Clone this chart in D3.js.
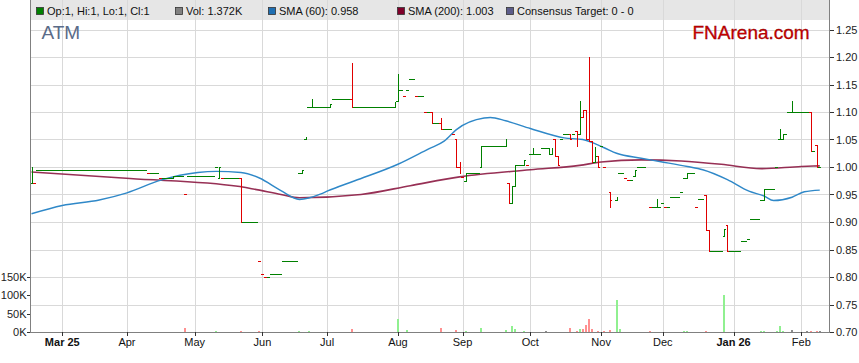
<!DOCTYPE html>
<html>
<head>
<meta charset="utf-8">
<script src="https://cdn.jsdelivr.net/npm/d3@7"></script>
<style>
body { margin: 0; background: #fff; }
svg { display: block; font-family: "Liberation Sans", Arial, sans-serif; }
</style>
</head>
<body>
<svg id="chart" width="859" height="363"></svg>
<script>
// first bar date, every weekday after it is one slot on the x axis
var startDate = "2025-02-17";

var monthStarts = ["2025-03-01", "2025-04-01", "2025-05-01", "2025-06-01", "2025-07-01", "2025-08-01",
	"2025-09-01", "2025-10-01", "2025-11-01", "2025-12-01", "2026-01-01", "2026-02-01"];
var monthLabels = ["Mar 25", "Apr", "May", "Jun", "Jul", "Aug", "Sep", "Oct", "Nov", "Dec", "Jan 26", "Feb"];

var priceTicks = [0.70, 0.75, 0.80, 0.85, 0.90, 0.95, 1.00, 1.05, 1.10, 1.15, 1.20, 1.25];
var volTicks = [0, 50, 100, 150];
var volTickLabels = ["0K", "50K", "100K", "150K"];

var legendLabels = ["Op:1, Hi:1, Lo:1, Cl:1", "Vol: 1.372K", "SMA (60): 0.958", "SMA (200): 1.003", "Consensus Target: 0 - 0"];

// [weekday, price] for a flat day, or [weekday, open, high, low, close]
var bars = [
	[0, 0.97, 1.00, 0.97, 1.00], [1, 0.97],
	[2, .995], [3, .995], [4, .995], [5, .995], [6, .995], [7, .995], [8, .995], [9, .995], [10, .995],
	[11, .995], [12, .995], [13, .995], [14, .995], [15, .995], [16, .995], [17, .995], [18, .995], [19, .995],
	[20, .995], [21, .995], [22, .995], [23, .995], [24, .995], [25, .995], [26, .995], [27, .995], [28, .995],
	[29, .995], [30, .995], [31, .995], [32, .995], [33, .995], [34, .995], [35, .995], [36, .995], [37, .995],
	[38, .99], [39, .99], [40, .99], [41, .99],
	[42, .98], [43, .98], [44, .98], [45, .98],
	[46, 0.98, 0.984, 0.98, 0.984],
	[47, .984], [48, .984], [49, .984], [50, .95],
	[51, .984], [52, .984], [53, .984], [54, .984], [55, .984], [56, .984], [57, .984], [58, .984], [59, .984],
	[60, 1.00], [61, 0.98, 1.00, 0.98, 1.00],
	[62, .98], [63, .98], [64, .98], [65, .98], [66, .98], [67, .98],
	[68, 0.98, 0.98, 0.90, 0.90],
	[69, .90], [70, .90], [71, .90], [72, .90], [73, .90],
	[74, .83], [75, .805], [76, .80], [77, .80],
	[78, .805], [79, .805], [80, .805], [81, .805],
	[82, .83], [83, .83], [84, .83], [85, .83], [86, .83],
	[87, .99], [88, 0.99, 0.995, 0.99, 0.995],
	[89, 1.05, 1.055, 1.05, 1.055],
	[90, 1.109], [91, 1.109, 1.124, 1.109, 1.109],
	[92, 1.109], [93, 1.109], [94, 1.109], [95, 1.109], [96, 1.109],
	[97, 1.109, 1.115, 1.109, 1.115],
	[98, 1.124], [99, 1.124], [100, 1.124], [101, 1.124], [102, 1.124], [103, 1.124],
	[104, 1.124, 1.19, 1.109, 1.109],
	[105, 1.109], [106, 1.109], [107, 1.109], [108, 1.109], [109, 1.109], [110, 1.109], [111, 1.109],
	[112, 1.109], [113, 1.109], [114, 1.109], [115, 1.109], [116, 1.109], [117, 1.109],
	[118, 1.109, 1.119, 1.109, 1.119],
	[119, 1.12, 1.169, 1.12, 1.13],
	[120, 1.14], [121, 1.13], [122, 1.14], [123, 1.16], [124, 1.16], [125, 1.13], [126, 1.13], [127, 1.13],
	[128, 1.10], [129, 1.10],
	[130, 1.10, 1.10, 1.08, 1.08],
	[131, 1.08], [132, 1.08],
	[133, 1.08, 1.089, 1.069, 1.069],
	[134, 1.069], [135, 1.069], [136, 1.069], [137, 1.06],
	[138, 1.05, 1.05, 1.00, 1.00],
	[139, 1.00, 1.009, 0.99, 0.99],
	[140, 0.981],
	[141, 0.975, 0.989, 0.975, 0.989],
	[142, .989], [143, .989], [144, .989], [145, .989],
	[146, 1.00, 1.039, 1.00, 1.039],
	[147, 1.039], [148, 1.039], [149, 1.039], [150, 1.039], [151, 1.039], [152, 1.039], [153, 1.039],
	[154, 1.039, 1.05, 1.039, 1.05],
	[155, 0.97, 0.97, 0.935, 0.935],
	[156, 0.935, 0.965, 0.935, 0.965],
	[157, 0.965, 1.004, 0.965, 1.004],
	[158, 1.004], [159, 1.004],
	[160, 1.004, 1.013, 1.004, 1.013],
	[161, 1.004], [162, 1.024],
	[163, 1.024, 1.035, 1.024, 1.024],
	[164, 1.024], [165, 1.024], [166, 1.035], [167, 1.035],
	[168, 1.035, 1.035, 1.024, 1.035],
	[169, 1.024, 1.035, 1.024, 1.035],
	[170, 1.05, 1.05, 1.02, 1.02],
	[171, 1.02, 1.02, 1.004, 1.004],
	[172, 1.05], [173, 1.06], [174, 1.06],
	[175, 1.06, 1.06, 1.05, 1.05],
	[176, 1.06],
	[177, 1.065, 1.065, 1.039, 1.039],
	[178, 1.06, 1.12, 1.06, 1.12],
	[179, 1.09, 1.104, 1.09, 1.104],
	[180, 1.104, 1.104, 1.05, 1.05],
	[181, 1.05, 1.20, 1.047, 1.047],
	[182, 1.047, 1.047, 1.009, 1.009],
	[183, 1.009, 1.036, 1.009, 1.02],
	[184, 1.02, 1.02, 1.00, 1.00],
	[185, 1.039], [186, 1.00],
	[188, 0.955, 0.955, 0.928, 0.94],
	[190, 0.94, 0.946, 0.94, 0.946],
	[191, .989], [192, .989], [193, .98], [194, .976], [195, .976],
	[196, 0.984, 0.995, 0.984, 0.995],
	[197, 1.00], [198, 1.00], [199, 1.00],
	[201, .928], [202, .928],
	[203, 0.928, 0.941, 0.928, 0.928],
	[204, .928], [205, .935], [206, .928], [207, .928],
	[208, .945], [209, .945], [210, .945], [211, .955], [212, .98],
	[213, 0.98, 0.989, 0.98, 0.989],
	[214, .989], [215, .989], [216, .928], [217, .941], [218, .941],
	[219, 0.949, 0.949, 0.885, 0.885],
	[220, 0.885, 0.885, 0.848, 0.848],
	[221, .848], [222, .848], [223, .848], [224, .848],
	[225, 0.875, 0.887, 0.875, 0.887],
	[226, 0.895, 0.895, 0.848, 0.848],
	[227, .848], [228, .848], [229, .848], [230, .848],
	[231, .865], [232, .865], [233, .869], [234, .905], [235, .905], [236, .905], [237, .94],
	[238, 0.94, 0.96, 0.94, 0.96],
	[239, .96], [240, .96], [241, .96], [242, 1.00],
	[243, 1.05, 1.069, 1.05, 1.05],
	[244, 1.05, 1.06, 1.05, 1.06],
	[245, 1.06], [246, 1.10],
	[247, 1.10, 1.12, 1.10, 1.10],
	[248, 1.10], [249, 1.10], [250, 1.10], [251, 1.10], [252, 1.10],
	[253, 1.10, 1.10, 1.03, 1.03],
	[254, 1.03],
	[255, 1.04, 1.04, 1.00, 1.00],
	[256, 1.00]
];

// volume in thousands
var volDays = [50, 60, 68, 74, 87, 90, 104, 119, 122, 133, 138, 141, 146, 154, 156, 157, 160, 167, 175, 177,
	178, 179, 180, 181, 182, 184, 186, 188, 190, 191, 201, 212, 213, 219, 225, 237, 238, 242, 243, 244, 247, 252, 253, 255, 256];
var volK = [12, 2, 3, 4, 2, 2, 9, 36, 6, 12, 6, 2, 11, 5, 15, 9, 2, 3, 12, 3,
	9, 9, 20, 36, 9, 2, 3, 6, 87, 9, 3, 2, 2, 3, 100, 2, 2, 2, 15, 3, 6, 2, 3, 3, 2];

var sma60Days = [0, 10, 22, 31, 42, 54, 60, 68, 74, 81, 87, 94, 96, 105, 119, 129, 134, 138, 147, 149, 154,
	162, 173, 179, 186, 190, 198, 204, 213, 218, 226, 233, 238, 241, 247, 251, 256];
var sma60 = [0.915, 0.93, 0.94, 0.953, 0.976, 0.99, 0.992, 0.99, 0.98, 0.957, 0.941, 0.951, 0.956, 0.975, 1.005,
	1.033, 1.047, 1.068, 1.089, 1.09, 1.084, 1.07, 1.053, 1.05, 1.035, 1.025, 1.016, 1.01, 1.001, 0.995,
	0.977, 0.956, 0.947, 0.939, 0.945, 0.955, 0.958];

var sma200Days = [0, 32, 67, 72, 81, 87, 107, 123, 139, 162, 178, 185, 198, 211, 224, 237, 250, 256];
var sma200 = [0.991, 0.979, 0.965, 0.96, 0.95, 0.944, 0.95, 0.966, 0.982, 0.995, 1.003, 1.009, 1.013, 1.011,
	1.005, 0.997, 1.001, 1.002];

var svg = d3.select('#chart');

var t0 = new Date(startDate + "T00:00:00Z");
function weekdayIndex(dateStr) {
	var end = new Date(dateStr + "T00:00:00Z");
	return d3.utcDay.range(t0, end).filter(function(d) {
		return d.getUTCDay() % 6 !== 0;
	}).length;
}

var x = d3.scaleLinear().domain([0, 259]).range([31.5, 829]);
var y = d3.scaleLinear().domain([0.70, 1.25]).range([332, 29.5]);
var yVol = d3.scaleLinear().domain([0, 150]).range([332, 276.5]);
var slot = x(1) - x(0);

// snap to pixel centres so 1px strokes keep their colour
function py(v) { return Math.round(y(v)) + 0.5; }

// legend strip
svg.append('rect')
	.attr('x', 30).attr('y', 0).attr('width', 799).attr('height', 20)
	.attr('fill', '#e6e6e6');

// grid
var monthIdx = monthStarts.map(weekdayIndex);
svg.append('g').selectAll('line')
	.data(priceTicks)
	.enter().append('line')
	.attr('x1', 30).attr('x2', 829)
	.attr('y1', py).attr('y2', py)
	.attr('stroke', '#d9d9d9');
svg.append('g').selectAll('line')
	.data(monthIdx)
	.enter().append('line')
	.attr('x1', function(d) { return Math.round(x(d)) + 0.5; })
	.attr('x2', function(d) { return Math.round(x(d)) + 0.5; })
	.attr('y1', 0).attr('y2', 332)
	.attr('stroke', '#d9d9d9');

// legend items
var legendX = [36, 175, 268, 397, 506];
var legendFill = ['#008000', '#808080', '#1f6fb2', '#80002a', '#5c5c8a'];
var leg = svg.append('g').selectAll('g')
	.data(legendLabels)
	.enter().append('g')
	.attr('transform', function(d, i) { return 'translate(' + legendX[i] + ',0)'; });
leg.append('rect')
	.attr('x', 0.5).attr('y', 7.5).attr('width', 7).attr('height', 7)
	.attr('fill', function(d, i) { return legendFill[i]; })
	.attr('stroke', '#333').attr('stroke-width', 0.8);
leg.append('text')
	.attr('x', 11).attr('y', 15)
	.attr('font-size', 11).attr('fill', '#111')
	.text(function(d) { return d; });

// titles
svg.append('text').attr('x', 41.5).attr('y', 39)
	.attr('font-size', 19).attr('fill', '#5a6b88').text('ATM');
svg.append('text').attr('x', 692.5).attr('y', 38.5)
	.attr('font-size', 19).attr('fill', '#c80000')
	.attr('stroke', '#8a0000').attr('stroke-width', 0.3).text('FNArena.com');

// bar data with colour by close vs previous close
var ohlc = bars.map(function(b) {
	if (b.length === 2) return {d: b[0], o: b[1], h: b[1], l: b[1], c: b[1]};
	return {d: b[0], o: b[1], h: b[2], l: b[3], c: b[4]};
});
var prev = null;
ohlc.forEach(function(b) {
	b.down = prev !== null && b.c < prev - 1e-9;
	b.flat = prev !== null && Math.abs(b.c - prev) < 1e-9;
	prev = b.c;
});
var byDay = {};
ohlc.forEach(function(b) { byDay[b.d] = b; });

// volume bars
svg.append('g').selectAll('rect')
	.data(volDays)
	.enter().append('rect')
	.attr('x', function(d) { return Math.round(x(d)) - 1; })
	.attr('width', 2)
	.attr('y', function(d, i) { return Math.min(Math.round(yVol(volK[i])), 331); })
	.attr('height', function(d, i) { return Math.max(332 - Math.round(yVol(volK[i])), 1); })
	.attr('fill', function(d) {
		var b = byDay[d];
		if (!b || b.flat) return '#8c8c8c';
		return b.down ? '#ff9090' : '#90f090';
	});

// moving averages, under the price bars
var line = d3.line().curve(d3.curveMonotoneX);
svg.append('path')
	.attr('d', line(sma200Days.map(function(d, i) { return [x(d), y(sma200[i])]; })))
	.attr('fill', 'none').attr('stroke', '#8c1a42').attr('stroke-width', 1.6).attr('stroke-opacity', 0.9);
svg.append('path')
	.attr('d', line(sma60Days.map(function(d, i) { return [x(d), y(sma60[i])]; })))
	.attr('fill', 'none').attr('stroke', '#2f88c8').attr('stroke-width', 1.4);

// price bars: open tick left, close tick right, high-low stick
svg.append('g')
	.selectAll('path')
	.data(ohlc)
	.enter().append('path')
	.attr('fill', 'none')
	.attr('stroke-width', 1)
	.attr('stroke', function(b) { return b.down ? '#e00000' : '#008000'; })
	.attr('d', function(b) {
		var c = x(b.d), h = slot / 2;
		var cx = Math.round(c), xl = Math.round(c - h), xr = Math.round(c + h);
		return 'M' + xl + ',' + py(b.o) + 'H' + (cx + 1) +
			'M' + (cx + 0.5) + ',' + (py(b.h) - 0.5) + 'V' + (py(b.l) + 0.5) +
			'M' + cx + ',' + py(b.c) + 'H' + xr;
	});

// axes lines
svg.append('line').attr('x1', 30.5).attr('x2', 30.5).attr('y1', 0).attr('y2', 332.5).attr('stroke', '#808080');
svg.append('line').attr('x1', 829.5).attr('x2', 829.5).attr('y1', 0).attr('y2', 332.5).attr('stroke', '#808080');
svg.append('line').attr('x1', 30).attr('x2', 830).attr('y1', 332.5).attr('y2', 332.5).attr('stroke', '#808080');

// right price axis
var right = svg.append('g').selectAll('g')
	.data(priceTicks)
	.enter().append('g');
right.append('line')
	.attr('x1', 830).attr('x2', 834)
	.attr('y1', py).attr('y2', py)
	.attr('stroke', '#333');
right.append('text')
	.attr('x', 836).attr('y', function(d) { return y(d) + 4; })
	.attr('font-size', 11).attr('fill', '#222')
	.text(d3.format('.2f'));

// left volume axis
var left = svg.append('g').selectAll('g')
	.data(volTicks)
	.enter().append('g');
left.append('line')
	.attr('x1', 27).attr('x2', 30)
	.attr('y1', function(d) { return Math.round(yVol(d)) + 0.5; })
	.attr('y2', function(d) { return Math.round(yVol(d)) + 0.5; })
	.attr('stroke', '#333');
left.append('text')
	.attr('x', 26.5).attr('y', function(d) { return yVol(d) + 4; })
	.attr('text-anchor', 'end')
	.attr('font-size', 11).attr('fill', '#222')
	.text(function(d, i) { return volTickLabels[i]; });

// month axis
var bottom = svg.append('g').selectAll('g')
	.data(monthIdx)
	.enter().append('g');
bottom.append('line')
	.attr('x1', function(d) { return Math.round(x(d)) + 0.5; })
	.attr('x2', function(d) { return Math.round(x(d)) + 0.5; })
	.attr('y1', 332).attr('y2', 336)
	.attr('stroke', '#333');
bottom.append('text')
	.attr('x', function(d) { return x(d); })
	.attr('y', 346)
	.attr('text-anchor', 'middle')
	.attr('font-size', 11).attr('fill', '#111')
	.attr('font-weight', function(d, i) { return monthLabels[i].indexOf(' ') > 0 ? 'bold' : 'normal'; })
	.text(function(d, i) { return monthLabels[i]; });
</script>
</body>
</html>
